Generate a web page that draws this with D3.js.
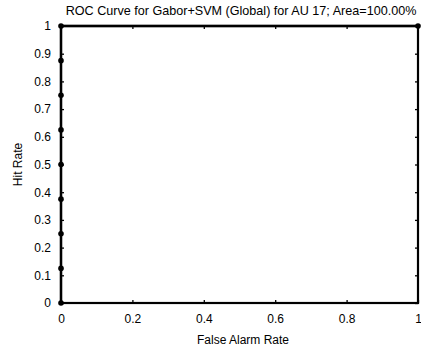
<!DOCTYPE html>
<meta charset="utf-8">
<style>
body { margin: 0; background: #fff; }
text { font-family: "Liberation Sans", Arial, sans-serif; fill: #000; }
</style>
<div id="chart"></div>
<script src="https://d3js.org/d3.v7.min.js"></script>
<script>
  // ROC points (false alarm rate, hit rate)
  var falseAlarm = [0, 0, 0, 0, 0, 0, 0, 0, 0, 1];
  var hitRate = [0, 0.125, 0.25, 0.375, 0.5, 0.625, 0.75, 0.875, 1, 1];
  var xTicks = [0, 0.2, 0.4, 0.6, 0.8, 1];
  var yTicks = [0, 0.1, 0.2, 0.3, 0.4, 0.5, 0.6, 0.7, 0.8, 0.9, 1];
  var title = "ROC Curve for Gabor+SVM (Global) for AU 17; Area=100.00%";

  var width = 421, height = 353;
  var margin = { left: 61, right: 3, top: 26, bottom: 50 };

  var svg = d3.select("#chart").append("svg")
    .attr("width", width)
    .attr("height", height);

  var x = d3.scaleLinear().domain([0, 1]).range([margin.left, width - margin.right]);
  var y = d3.scaleLinear().domain([0, 1]).range([height - margin.bottom, margin.top]);

  var fmt = function(d) { return d === 0 || d === 1 ? String(d) : d3.format(".1f")(d); };

  // axes with inward ticks
  svg.append("g")
    .attr("transform", "translate(0," + y(0) + ")")
    .call(d3.axisBottom(x).tickValues(xTicks).tickFormat(fmt).tickSizeInner(-3).tickSizeOuter(0).tickPadding(11));
  svg.append("g")
    .attr("transform", "translate(0," + y(1) + ")")
    .call(d3.axisTop(x).tickValues(xTicks).tickFormat("").tickSizeInner(-3).tickSizeOuter(0));
  svg.append("g")
    .attr("transform", "translate(" + x(0) + ",0)")
    .call(d3.axisLeft(y).tickValues(yTicks).tickFormat(fmt).tickSizeInner(-3).tickSizeOuter(0).tickPadding(10));
  svg.append("g")
    .attr("transform", "translate(" + x(1) + ",0)")
    .call(d3.axisRight(y).tickValues(yTicks).tickFormat("").tickSizeInner(-3).tickSizeOuter(0));

  svg.selectAll(".domain").remove();
  svg.selectAll(".tick line").attr("stroke", "#000").attr("stroke-width", 1.3);
  svg.selectAll(".tick text").style("font-size", "12px").attr("fill", "#000");

  // plot box
  svg.append("rect")
    .attr("x", x(0)).attr("y", y(1))
    .attr("width", x(1) - x(0)).attr("height", y(0) - y(1))
    .attr("fill", "none").attr("stroke", "#000").attr("stroke-width", 2.2);

  var pts = falseAlarm.map(function(d, i) { return [d, hitRate[i]]; });

  svg.append("path")
    .datum(pts)
    .attr("fill", "none")
    .attr("stroke", "#000")
    .attr("stroke-width", 2.4)
    .attr("d", d3.line().x(function(d) { return x(d[0]); }).y(function(d) { return y(d[1]); }));

  svg.selectAll(".pt")
    .data(pts)
    .enter()
    .append("circle")
    .attr("class", "pt")
    .attr("cx", function(d) { return x(d[0]); })
    .attr("cy", function(d) { return y(d[1]); })
    .attr("r", 2.8)
    .attr("fill", "#000");

  svg.append("text")
    .attr("x", 241).attr("y", 15)
    .attr("text-anchor", "middle")
    .style("font-size", "12.6px")
    .text(title);

  svg.append("text")
    .attr("x", 243).attr("y", 344)
    .attr("text-anchor", "middle")
    .style("font-size", "12px")
    .text("False Alarm Rate");

  svg.append("text")
    .attr("transform", "translate(22," + (y(0.5)) + ") rotate(-90)")
    .attr("text-anchor", "middle")
    .style("font-size", "12px")
    .text("Hit Rate");
</script>
